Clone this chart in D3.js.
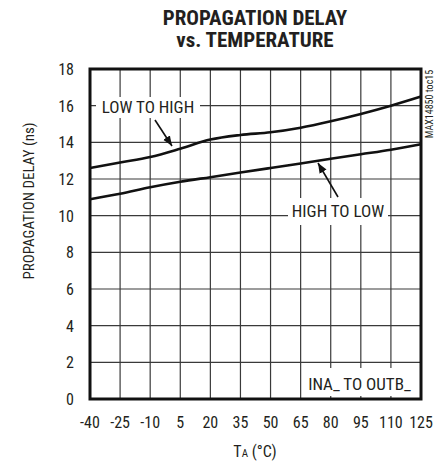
<!DOCTYPE html>
<html><head><meta charset="utf-8">
<script src="https://cdn.jsdelivr.net/npm/d3@7"></script>
<style>
body{margin:0;background:#fff;}
text{font-family:"Liberation Sans Narrow","Roboto Condensed","Arial Narrow",sans-serif;fill:#231f20;}
</style></head>
<body><svg id="c" width="445" height="464"></svg>
<script>
const temps = [-40,-25,-10,5,20,35,50,65,80,95,110,125];
const lowToHigh = [12.6,12.9,13.2,13.65,14.15,14.4,14.55,14.8,15.15,15.55,16.0,16.5];
const highToLow = [10.9,11.2,11.55,11.85,12.1,12.35,12.6,12.85,13.1,13.35,13.6,13.9];
const xTicks = [-40,-25,-10,5,20,35,50,65,80,95,110,125];
const yTicks = [0,2,4,6,8,10,12,14,16,18];
const titleLines = ["PROPAGATION DELAY","vs. TEMPERATURE"];

const svg = d3.select("#c");
const L=90,R=421,T=69,B=399;
const x = d3.scaleLinear().domain([-40,125]).range([L,R]);
const y = d3.scaleLinear().domain([0,18]).range([B,T]);

// title
svg.selectAll("text.title").data(titleLines).join("text")
  .attr("x",255).attr("y",(d,i)=>25+i*22).attr("text-anchor","middle")
  .style("font-size","21px").style("font-weight","bold").text(d=>d);

// grid
const g = svg.append("g");
g.selectAll("line.v").data(xTicks.slice(1,-1)).join("line")
  .attr("x1",d=>x(d)).attr("x2",d=>x(d)).attr("y1",T).attr("y2",B)
  .attr("stroke","#3a3a3a").attr("stroke-width",1.2);
g.selectAll("line.h").data(yTicks.slice(1,-1)).join("line")
  .attr("y1",d=>y(d)).attr("y2",d=>y(d)).attr("x1",L).attr("x2",R)
  .attr("stroke","#3a3a3a").attr("stroke-width",1.2);

// label boxes (white backgrounds)
const boxes = [
  {x:96,y:97,w:104,h:21,t:"LOW TO HIGH",tx:148,ty:113},
  {x:288,y:198,w:100,h:27,t:"HIGH TO LOW",tx:338,ty:217},
  {x:302,y:368,w:116,h:28,t:"INA_ TO OUTB_",tx:359.5,ty:390}
];
svg.selectAll("rect.box").data(boxes).join("rect")
  .attr("x",d=>d.x).attr("y",d=>d.y).attr("width",d=>d.w).attr("height",d=>d.h).attr("fill","#fff");
svg.selectAll("text.lbl").data(boxes).join("text")
  .attr("x",d=>d.tx).attr("y",d=>d.ty).attr("text-anchor","middle")
  .style("font-size","17px").text(d=>d.t);

// curves
const line = d3.line().x((d,i)=>x(temps[i])).y(d=>y(d)).curve(d3.curveMonotoneX);
[lowToHigh,highToLow].forEach(s=>{
  svg.append("path").attr("d",line(s)).attr("fill","none").attr("stroke","#111").attr("stroke-width",2.6);
});

// arrows
svg.append("defs").append("marker").attr("id","ah").attr("viewBox","0 0 10 10")
  .attr("refX",10).attr("refY",5).attr("markerWidth",10).attr("markerHeight",10)
  .attr("markerUnits","userSpaceOnUse").attr("orient","auto")
  .append("path").attr("d","M0,1 L10,5 L0,9 Z").attr("fill","#111");
const arrows=[{x1:155,y1:120,x2:172,y2:146},{x1:338,y1:197,x2:318,y2:163}];
svg.selectAll("line.arr").data(arrows).join("line")
  .attr("x1",d=>d.x1).attr("y1",d=>d.y1).attr("x2",d=>d.x2).attr("y2",d=>d.y2)
  .attr("stroke","#111").attr("stroke-width",1.6).attr("marker-end","url(#ah)");

// border
svg.append("rect").attr("x",L).attr("y",T).attr("width",R-L).attr("height",B-T)
  .attr("fill","none").attr("stroke","#111").attr("stroke-width",3);

// axes labels
svg.selectAll("text.yt").data(yTicks).join("text")
  .attr("x",74).attr("y",d=>y(d)+6).attr("text-anchor","end")
  .style("font-size","16px").text(d=>d);
svg.selectAll("text.xt").data(xTicks).join("text")
  .attr("x",d=>x(d)).attr("y",428).attr("text-anchor","middle")
  .style("font-size","16px").text(d=>d);

const xl = svg.append("text").attr("x",255).attr("y",457).attr("text-anchor","middle").style("font-size","16px");
xl.append("tspan").text("T");
xl.append("tspan").style("font-size","11px").text("A");
xl.append("tspan").text(" (°C)");

svg.append("text").attr("transform","translate(34,201) rotate(-90)").attr("text-anchor","middle")
  .style("font-size","15px").text("PROPAGATION DELAY (ns)");
svg.append("text").attr("transform","translate(433,104) rotate(-90)").attr("text-anchor","middle")
  .style("font-size","10px").text("MAX14850 toc15");
</script></body></html>
